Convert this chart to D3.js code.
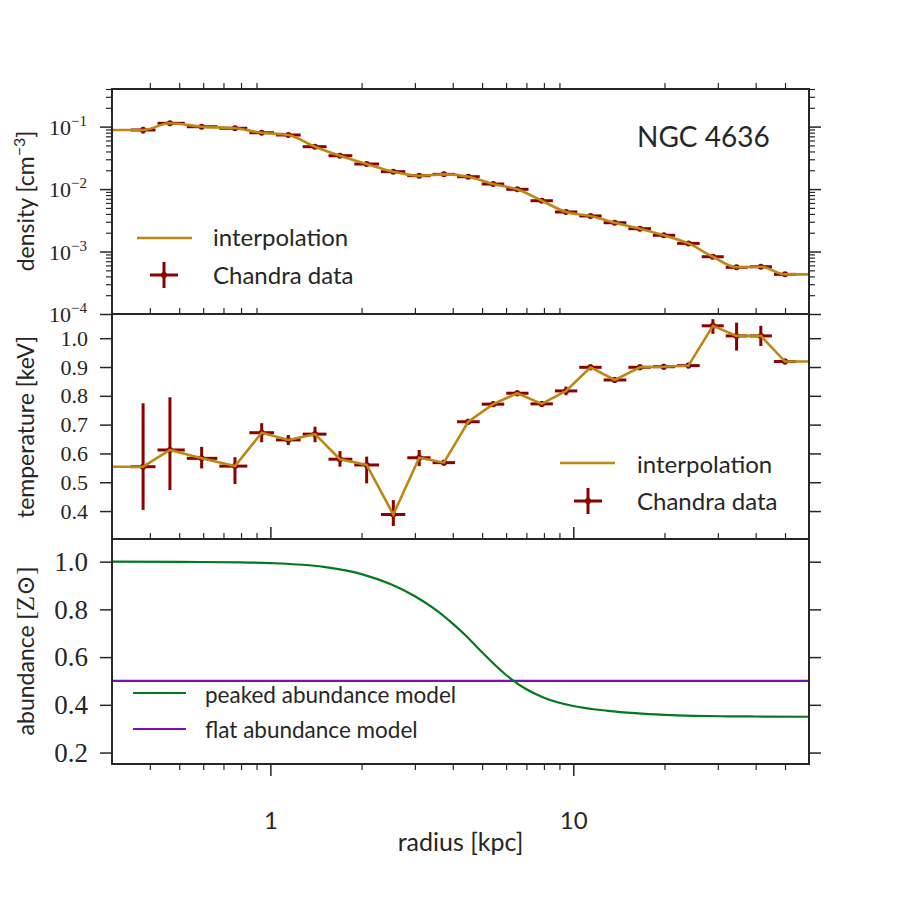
<!DOCTYPE html>
<html><head><meta charset="utf-8">
<script src="https://cdn.jsdelivr.net/npm/d3@7"></script>
<style>body{margin:0;background:#fff}</style>
</head><body>
<svg id="c" width="900" height="900" xmlns="http://www.w3.org/2000/svg"></svg>
<script>
// ---------- data ----------
const radius = [0.380,0.466,0.593,0.764,0.936,1.146,1.404,1.697,2.079,2.546,3.10,3.74,4.50,5.44,6.53,7.87,9.46,11.4,13.7,16.6,19.9,24.0,28.9,34.6,41.6,50.0];
const density = [0.0883,0.113,0.0996,0.094,0.0798,0.0734,0.0477,0.0342,0.0252,0.0190,0.01637,0.0172,0.01578,0.01205,0.00991,0.00651,0.00430,0.00371,0.00289,0.00232,0.00182,0.00135,0.000826,0.000559,0.000571,0.000431];
const densityErr = [0.011,0.005,0.004,0.004,0.003,0.003,0.002,0.0015,0.001,0.0008,0.0007,0.0007,0.0006,0.0005,0.0004,0.0003,0.0002,0.00015,0.00012,0.0001,0.00008,0.00006,0.00004,0.00003,0.00003,0.00002];
const temperature = [0.554,0.612,0.583,0.556,0.672,0.647,0.667,0.580,0.560,0.388,0.585,0.568,0.710,0.771,0.809,0.772,0.817,0.899,0.855,0.899,0.901,0.905,1.043,1.008,1.008,0.919];
const tempErrHi = [0.220,0.183,0.040,0.031,0.033,0.017,0.026,0.028,0.029,0.050,0.027,0.010,0.010,0.010,0.010,0.010,0.015,0.010,0.010,0.010,0.010,0.010,0.023,0.046,0.035,0.010];
const tempErrLo = [0.150,0.139,0.035,0.062,0.033,0.018,0.028,0.026,0.064,0.040,0.029,0.010,0.010,0.010,0.010,0.010,0.015,0.010,0.010,0.010,0.010,0.010,0.028,0.051,0.035,0.010];
const abundR = [0.3,0.5,0.8,1,1.5,2,2.5,3,3.5,4,4.5,5,6,7,8,10,13,16,20,25,32,40,60];
const abundPeaked = [1.0,0.999,0.997,0.994,0.978,0.948,0.905,0.855,0.80,0.74,0.68,0.62,0.525,0.465,0.43,0.395,0.375,0.365,0.358,0.354,0.352,0.351,0.35];
const abundFlatR = [0.3,60];
const abundFlat = [0.5,0.5];
const xMajor = [1,10];
const xMinor = [0.4,0.5,0.6,0.7,0.8,0.9,2,3,4,5,6,7,8,9,20,30,40,50];
const densMajor = [1e-4,1e-3,1e-2,1e-1];
const densMajorExp = ["−4","−3","−2","−1"];
const densMinor = [];
[1e-4,1e-3,1e-2,1e-1].forEach(d=>{for(let k=2;k<=9;k++){if(k*d<=0.4)densMinor.push(k*d);}});
const tempTicks = [0.4,0.5,0.6,0.7,0.8,0.9,1.0];
const abundTicks = [0.2,0.4,0.6,0.8,1.0];

// ---------- layout ----------
const L=112,R=809;
const P=[[89,314],[314,539],[539,764]];
const DARK="#262626", RED="#8b0000", GOLD="#bd8712", GREEN="#007a1a", PURPLE="#7d0fb8";
const SANS="Lato, 'DejaVu Sans', sans-serif", SERIF="'Liberation Serif', 'DejaVu Serif', serif";

const svg=d3.select("#c");
const x=d3.scaleLog().domain([0.3,60]).range([L,R]);
const yD=d3.scaleLog().domain([1e-4,0.4]).range([P[0][1],P[0][0]]);
const yT=d3.scaleLinear().domain([0.303,1.084]).range([P[1][1],P[1][0]]);
const yA=d3.scaleLinear().domain([0.152,1.095]).range([P[2][1],P[2][0]]);

const defs=svg.append("defs");
P.forEach((p,i)=>defs.append("clipPath").attr("id","clip"+i).append("rect").attr("x",L).attr("y",p[0]).attr("width",R-L).attr("height",p[1]-p[0]));

function styleAxis(g,w){g.select(".domain").remove();g.selectAll(".tick line").attr("stroke",DARK).attr("stroke-width",w);}

// x ticks
P.forEach((p,i)=>{
  svg.append("g").attr("transform",`translate(0,${p[0]})`).call(d3.axisTop(x).tickValues(xMinor).tickSize(6).tickFormat("")).call(g=>styleAxis(g,1.2));
});
svg.append("g").attr("transform",`translate(0,${P[2][0]})`).call(d3.axisTop(x).tickValues(xMajor).tickSize(12).tickFormat("")).call(g=>styleAxis(g,1.5));
svg.append("g").attr("transform",`translate(0,${P[2][1]})`).call(d3.axisBottom(x).tickValues(xMinor).tickSize(6).tickFormat("")).call(g=>styleAxis(g,1.2));
const xb=svg.append("g").attr("transform",`translate(0,${P[2][1]})`).call(d3.axisBottom(x).tickValues(xMajor).tickSize(12).tickPadding(0).tickFormat(d3.format("d"))).call(g=>styleAxis(g,1.5));
xb.selectAll(".tick text").attr("font-family",SANS).attr("font-size",24).attr("fill",DARK).attr("dy",null).attr("y",65);

// y axes
function yAxes(scale,major,minor,fmt,fs){
  const gl=svg.append("g").attr("transform",`translate(${L},0)`).call(d3.axisLeft(scale).tickValues(major).tickSize(12).tickPadding(12).tickFormat(fmt||""));
  styleAxis(gl,1.5);
  gl.attr("font-family",SERIF);
  gl.selectAll(".tick text").style("font-family",SERIF).attr("font-size",fs).attr("fill",DARK);
  svg.append("g").attr("transform",`translate(${R},0)`).call(d3.axisRight(scale).tickValues(major).tickSize(12).tickFormat("")).call(g=>styleAxis(g,1.5));
  if(minor){
    svg.append("g").attr("transform",`translate(${L},0)`).call(d3.axisLeft(scale).tickValues(minor).tickSize(6).tickFormat("")).call(g=>styleAxis(g,1.2));
    svg.append("g").attr("transform",`translate(${R},0)`).call(d3.axisRight(scale).tickValues(minor).tickSize(6).tickFormat("")).call(g=>styleAxis(g,1.2));
  }
  return gl;
}
const gD=yAxes(yD,densMajor,densMinor,null,22);
gD.selectAll(".tick").each(function(d,i){
  const t=d3.select(this).append("text").attr("x",-25).attr("y",7.5).attr("text-anchor","end")
    .style("font-family",SERIF).attr("font-size",22).attr("fill",DARK);
  t.append("tspan").text("10");
  t.append("tspan").attr("dy",-9).attr("font-size",15).text(densMajorExp[i]);
});
yAxes(yT,tempTicks,null,d3.format(".1f"),22);
yAxes(yA,abundTicks,null,d3.format(".1f"),27);

// ---------- panel 1: density ----------
function edges(){
  const e=[];
  for(let i=0;i<radius.length;i++){
    const lo=i>0?Math.sqrt(radius[i-1]*radius[i]):radius[0]*radius[0]/Math.sqrt(radius[0]*radius[1]);
    const hi=i<radius.length-1?Math.sqrt(radius[i]*radius[i+1]):radius[i]*radius[i]/Math.sqrt(radius[i-1]*radius[i]);
    e.push([lo,hi]);
  }
  return e;
}
const ed=edges();
function errorbars(g,ys,vals,lo,hi){
  const gg=g.append("g");
  radius.forEach((r,i)=>{
    gg.append("line").attr("x1",x(ed[i][0])+1).attr("x2",x(ed[i][1])-1).attr("y1",ys(vals[i])).attr("y2",ys(vals[i])).attr("stroke",RED).attr("stroke-width",3);
    gg.append("line").attr("x1",x(r)).attr("x2",x(r)).attr("y1",ys(vals[i]+hi[i])).attr("y2",ys(Math.max(vals[i]-lo[i],1e-6))).attr("stroke",RED).attr("stroke-width",3);
    gg.append("circle").attr("cx",x(r)).attr("cy",ys(vals[i])).attr("r",3).attr("fill",RED);
  });
}
const g1=svg.append("g").attr("clip-path","url(#clip0)");
errorbars(g1,yD,density,densityErr,densityErr);
const dPts=[[0.3,density[0]]].concat(radius.map((r,i)=>[r,density[i]])).concat([[60,density[density.length-1]]]);
g1.append("path").datum(dPts).attr("fill","none").attr("stroke",GOLD).attr("stroke-width",2.6)
  .attr("d",d3.line().x(d=>x(d[0])).y(d=>yD(d[1])).curve(d3.curveMonotoneX));

// ---------- panel 2: temperature ----------
const g2=svg.append("g").attr("clip-path","url(#clip1)");
errorbars(g2,yT,temperature,tempErrLo,tempErrHi);
const tPts=[[0.3,temperature[0]]].concat(radius.map((r,i)=>[r,temperature[i]])).concat([[60,temperature[temperature.length-1]]]);
g2.append("path").datum(tPts).attr("fill","none").attr("stroke",GOLD).attr("stroke-width",2.6)
  .attr("d",d3.line().x(d=>x(d[0])).y(d=>yT(d[1])));

// ---------- panel 3: abundance ----------
const g3=svg.append("g").attr("clip-path","url(#clip2)");
g3.append("path").datum(abundFlatR.map((r,i)=>[r,abundFlat[i]])).attr("fill","none").attr("stroke",PURPLE).attr("stroke-width",2.2)
  .attr("d",d3.line().x(d=>x(d[0])).y(d=>yA(d[1])));
g3.append("path").datum(abundR.map((r,i)=>[r,abundPeaked[i]])).attr("fill","none").attr("stroke",GREEN).attr("stroke-width",2.2)
  .attr("d",d3.line().x(d=>x(d[0])).y(d=>yA(d[1])).curve(d3.curveMonotoneX));

// frames
P.forEach(p=>svg.append("rect").attr("x",L).attr("y",p[0]).attr("width",R-L).attr("height",p[1]-p[0]).attr("fill","none").attr("stroke",DARK).attr("stroke-width",2));

// ---------- legends ----------
function legLine(x1,x2,y,c,w){svg.append("line").attr("x1",x1).attr("x2",x2).attr("y1",y).attr("y2",y).attr("stroke",c).attr("stroke-width",w||2.6);}
function legCross(cx,cy){
  svg.append("line").attr("x1",cx-14).attr("x2",cx+14).attr("y1",cy).attr("y2",cy).attr("stroke",RED).attr("stroke-width",3);
  svg.append("line").attr("x1",cx).attr("x2",cx).attr("y1",cy-13).attr("y2",cy+13).attr("stroke",RED).attr("stroke-width",3);
  svg.append("circle").attr("cx",cx).attr("cy",cy).attr("r",3).attr("fill",RED);
}
function legText(tx,ty,s,fs){svg.append("text").attr("x",tx).attr("y",ty).attr("font-family",SANS).attr("font-size",fs).attr("fill",DARK).text(s);}
legLine(137,192,238,GOLD); legText(213,246,"interpolation",24);
legCross(164,275); legText(213,284,"Chandra data",24);
legLine(560,615,463,GOLD); legText(637,473,"interpolation",24);
legCross(588,501); legText(637,510,"Chandra data",24);
legLine(133,186,693,GREEN,2.2); legText(205,703,"peaked abundance model",22.5);
legLine(133,186,729,PURPLE,2.2); legText(205,738,"flat abundance model",22.5);

// title
svg.append("text").attr("x",637).attr("y",147).attr("font-family",SANS).attr("font-size",28).attr("fill",DARK).text("NGC 4636");

// axis labels
svg.append("text").attr("x",(L+R)/2).attr("y",851).attr("text-anchor","middle").attr("font-family",SANS).attr("font-size",25).attr("fill",DARK).text("radius [kpc]");
function yLabel(cy,build){const t=svg.append("text").attr("transform",`translate(34,${cy}) rotate(-90)`).attr("text-anchor","middle").attr("font-family",SANS).attr("font-size",23).attr("fill",DARK);build(t);}
yLabel(201,t=>{t.append("tspan").text("density [cm");t.append("tspan").attr("dy",-9).attr("font-size",16).text("−3");t.append("tspan").attr("dy",9).text("]");});
yLabel(427,t=>t.text("temperature [keV]"));
yLabel(651,t=>{t.append("tspan").text("abundance ");t.append("tspan").style("font-family",SERIF).attr("font-size",25).text("[Z⊙]");});
</script>
</body></html>
